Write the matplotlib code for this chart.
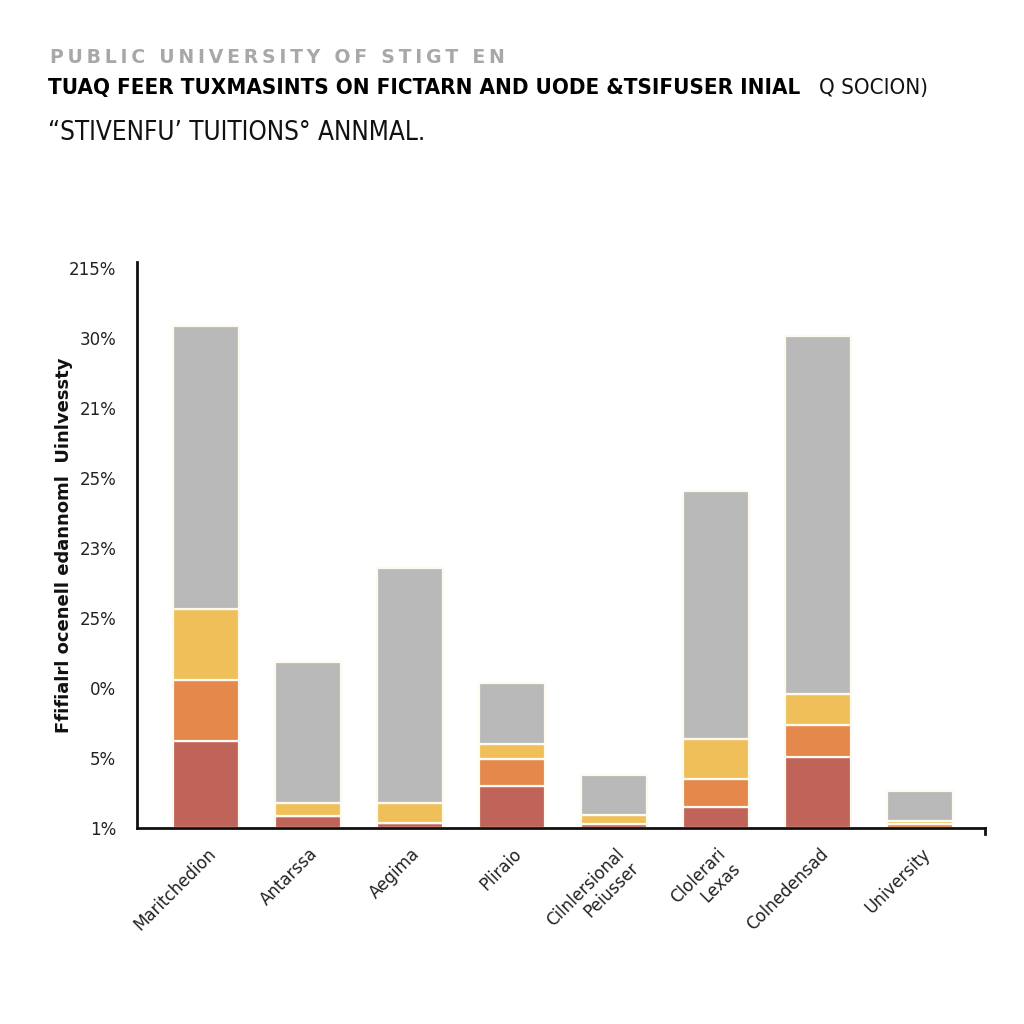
import numpy as np
import matplotlib.pyplot as plt
import matplotlib.transforms as mtransforms

# data (units: one y tick step = 5)
categories = ['Maritchedion', 'Antarssa', 'Aegima', 'Pliraio',
              'Cilnlersional\nPeiusser', 'Clolerari\nLexas', 'Colnedensad', 'University']
red = [6.2, 0.85, 0.35, 3.0, 0.3, 1.5, 5.05, 0.0]
orange = [4.4, 0.0, 0.0, 1.95, 0.0, 2.0, 2.3, 0.3]
yellow = [5.0, 0.95, 1.45, 1.05, 0.65, 2.85, 2.2, 0.2]
gray = [20.2, 10.05, 16.75, 4.35, 2.8, 17.7, 25.6, 2.15]
ytick_vals = [0, 5, 10, 15, 20, 25, 30, 35, 40]
ytick_labels = ['1%', '5%', '0%', '25%', '23%', '25%', '21%', '30%', '215%']

colors = ['#c0645a', '#e4884c', '#efc05a', '#b9b9b9']

fig = plt.figure(figsize=(10.24, 10.24), dpi=100)
ax = fig.add_axes([0.1338, 0.1914, 0.828, 0.5527])

x = np.arange(len(categories))
bottom = np.zeros(len(categories))
for vals, c in zip([red, orange, yellow, gray], colors):
    vals = np.array(vals)
    ax.bar(x, vals, 0.64, bottom=bottom, color=c, edgecolor='#fffaf0', linewidth=1.6)
    bottom += vals

ax.set_xlim(-0.676, 7.637)
ax.set_ylim(0, 40.4)
ax.set_yticks(ytick_vals)
ax.set_yticklabels(ytick_labels, fontsize=12, color='#222222')
ax.tick_params(axis='y', length=0, pad=15)
ax.set_xticks(x)
ax.set_xticklabels(categories, rotation=45, ha='right', va='top',
                   rotation_mode='anchor', fontsize=12, color='#222222',
                   multialignment='right')
ax.tick_params(axis='x', length=0, pad=12)
offset = mtransforms.ScaledTranslation(1 / 100, 0, fig.dpi_scale_trans)
for lab in ax.get_xticklabels():
    lab.set_transform(lab.get_transform() + offset)

for s in ['top', 'right']:
    ax.spines[s].set_visible(False)
for s in ['left', 'bottom']:
    ax.spines[s].set_linewidth(2)
    ax.spines[s].set_color('#111111')
ax.plot([7.637, 7.637], [0, -0.4], color='#111111', lw=2, clip_on=False)

ax.set_ylabel('Ffifialrl ocenell edannoml  Uinlvessty', fontsize=13,
              fontweight='bold', color='#111111')
ax.yaxis.set_label_coords(-0.0755, 0.5)

# titles
fig.text(0.049, 0.944, '\u2009'.join('PUBLIC UNIVERSITY OF STIGT EN'),
         fontsize=13.6, fontweight='bold', color='#a8a8a8', va='center')
fig.text(0.047, 0.914, 'TUAQ FEER TUXMASINTS ON FICTARN AND UODE &TSIFUSER INIAL',
         fontsize=16, fontweight='bold', fontstretch='condensed', color='#000000',
         va='center')
fig.text(0.800, 0.914, 'Q SOCION)', fontsize=16, fontstretch='condensed',
         color='#111111', va='center')
fig.text(0.047, 0.870, '\u201cSTIVENFU\u2019 TUITIONS\u00b0 ANNMAL.',
         fontsize=18.7, fontstretch='condensed', color='#111111', va='center')

plt.savefig('out.png', dpi=100, facecolor='white')
